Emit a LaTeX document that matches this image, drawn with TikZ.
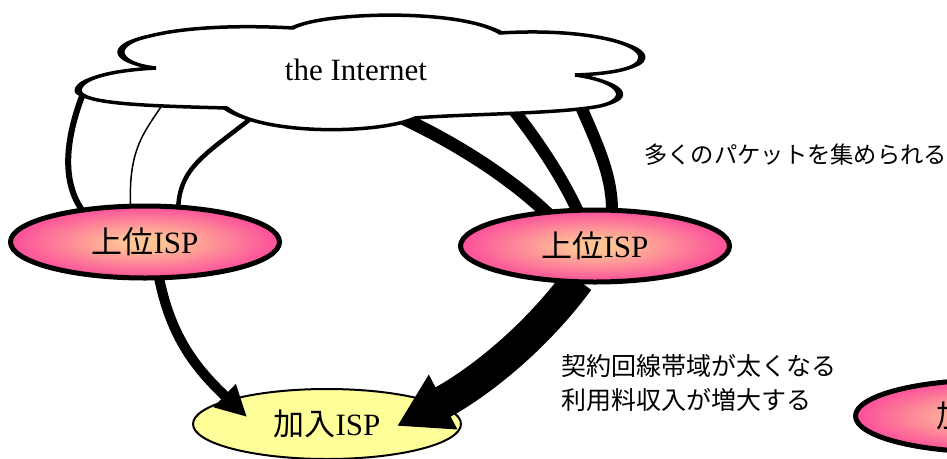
\documentclass[tikz,border=0pt]{standalone}
\usepackage{fontspec}
\setmainfont{Liberation Serif}
\newfontfamily\jpfont{Noto Sans CJK JP}
\usetikzlibrary{shapes.geometric,arrows.meta,calc}
\pgfdeclarelayer{back}
\pgfdeclarelayer{top}
\pgfsetlayers{back,main,top}
\definecolor{ispin}{RGB}{255,196,150}
\definecolor{ispout}{RGB}{250,50,155}
\definecolor{subfill}{RGB}{255,255,153}
\pgfdeclareradialshading{ispshade}{\pgfpoint{0bp}{0bp}}{color(0bp)=(ispin);color(4bp)=(ispin);color(30bp)=(ispout);color(50bp)=(ispout)}
\begin{document}
\begin{tikzpicture}[x=1pt,y=-1pt,
  isp/.style={ellipse, draw=black, line width=5pt, shading=ispshade,
    minimum width=269pt, minimum height=72pt, inner sep=0pt,
    font=\fontsize{31}{31}\selectfont},
  sub/.style={ellipse, draw=black, line width=2pt, fill=subfill,
    minimum width=268pt, minimum height=70pt, inner sep=0pt,
    font=\fontsize{31}{31}\selectfont},
  lbl/.style={inner sep=0pt, anchor=west, font=\jpfont\fontsize{25}{25}\selectfont},
  wire/.style={draw=black},
  flow/.style={draw=black}
]
\useasboundingbox (0,0) rectangle (947,458);
\def\cloudpath{(156,68) .. controls (116,64) and (110,44) .. (150,36)
  .. controls (185,27) and (240,25) .. (293,28)
  .. controls (320,12) and (460,8) .. (500,33)
  .. controls (580,28) and (642,42) .. (640,58)
  .. controls (639,70) and (605,74) .. (575,75)
  .. controls (625,82) and (628,100) .. (600,106)
  .. controls (560,114) and (460,114) .. (415,118)
  .. controls (380,134) and (262,136) .. (227,108)
  .. controls (150,106) and (78,104) .. (80,90)
  .. controls (82,76) and (120,70) .. (156,68) -- cycle}
% cloud
\fill[black, xshift=-5.5pt] \cloudpath;
\fill[black, xshift=5.5pt] \cloudpath;
\fill[white] \cloudpath;
\draw[black, line width=3.5pt] \cloudpath;
\node[font=\fontsize{31}{31}\selectfont, inner sep=0pt] (net) at (356,70) {the Internet};
\coordinate (c1) at (86,86);
\coordinate (c2) at (163,104);
\coordinate (c3) at (249,120);
\coordinate (c4) at (398,116);
\coordinate (c5) at (512,108);
\coordinate (c6) at (578,100);
% nodes
\node[sub] (jisp) at (327,424) {{\jpfont 加入}ISP};
\begin{pgfonlayer}{top}
\node[isp] (lisp) at (145,242) {{\jpfont 上位}ISP};
\node[isp] (risp) at (595,246) {{\jpfont 上位}ISP};
\node[isp] (pisp) at (990,416) {{\jpfont 加入}ISP};
\end{pgfonlayer}
% connectors cloud -> upper ISPs
\begin{pgfonlayer}{back}
\draw[wire, line width=6pt] (c1) .. controls (70,125) and (56,178) .. ([shift={(-60,-28)}]lisp.center);
\draw[wire, line width=1.5pt] (c2) .. controls (142,135) and (127,152) .. ([shift={(-14,-28)}]lisp.center);
\draw[wire, line width=4.5pt] (c3) .. controls (200,158) and (178,170) .. ([shift={(33,-28)}]lisp.center);
\draw[wire, line width=13pt] (c4) .. controls (450,140) and (508,175) .. ([shift={(-45,-30)}]risp.center);
\draw[wire, line width=12pt] (c5) .. controls (545,150) and (566,185) .. ([shift={(-15,-30)}]risp.center);
\draw[wire, line width=12pt] (c6) .. controls (600,150) and (613,178) .. ([shift={(17,-30)}]risp.center);
\end{pgfonlayer}
% arrows to subscriber ISP
\draw[flow, line width=10pt, -{Triangle[length=31pt,width=30pt]}]
  ([shift={(13,30)}]lisp.center) .. controls (170,340) and (200,372) .. ([shift={(-80,-7)}]jisp.center);
\draw[flow, line width=33pt, -{Triangle[length=52pt,width=58pt]}]
  ([shift={(-17,34)}]risp.center) .. controls (530,345) and (470,388) .. ([shift={(70,2)}]jisp.center);
% labels
\node[lbl, font=\jpfont\fontsize{23.3}{23.3}\selectfont] (t1) at (644,155) {多くのパケットを集められる};
\node[lbl] (t2) at (561,366) {契約回線帯域が太くなる};
\node[lbl] (t3) at (561,400) {利用料収入が増大する};
\end{tikzpicture}
\end{document}
